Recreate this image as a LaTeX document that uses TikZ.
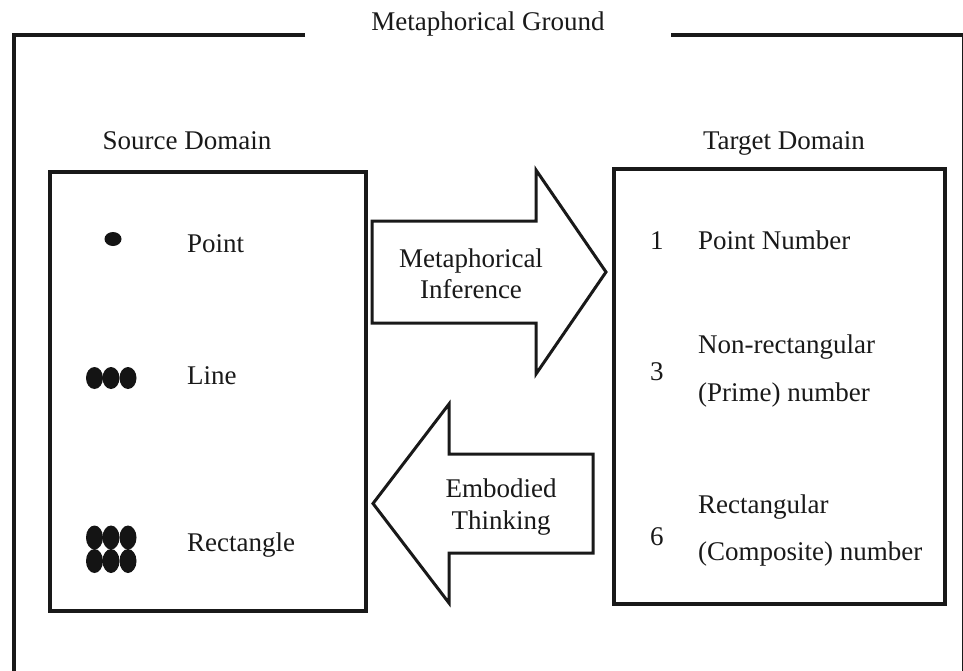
\documentclass[tikz,border=0pt]{standalone}
\usepackage{fontspec}
\setmainfont{Liberation Serif}
\begin{document}
\begin{tikzpicture}[x=1pt,y=-1pt,
  lbl/.style={inner sep=0pt, font=\fontsize{27}{31}\selectfont, text=black!90},
  box/.style={draw=black!90, line width=4pt, inner sep=0pt},
  fatarrow/.style={draw=black!90, fill=white, line width=3pt, line join=miter},
  frame/.style={draw=black!90, line width=4pt},
  dotfill/.style={fill=black!92}]
\useasboundingbox (0,0) rectangle (963,670);
\clip (0,0) rectangle (963,670);

% outer frame
\draw[frame] (305,35) -- (14,35) -- (14,720);
\draw[frame] (671,35) -- (963.5,35) -- (963.5,720);
\node[lbl, anchor=base] (title) at (488,30) {Metaphorical Ground};

% domain titles
\node[lbl, anchor=base] (srctitle) at (187,149) {Source Domain};
\node[lbl, anchor=base] (tgttitle) at (784,149) {Target Domain};

% boxes
\node[box, minimum width=316pt, minimum height=439pt, anchor=north west] (src) at (48,170) {};
\node[box, minimum width=331pt, minimum height=435pt, anchor=north west] (tgt) at (612,167) {};

% arrows
\draw[fatarrow] (372,221) -- (536,221) -- (536,170) -- (606,272) -- (536,374) -- (536,323) -- (372,323) -- cycle;
\node[lbl, anchor=base] (mi1) at (471,267) {Metaphorical};
\node[lbl, anchor=base] (mi2) at (471,298) {Inference};

\draw[fatarrow] (593,454) -- (449,454) -- (449,404) -- (373,503.5) -- (449,603) -- (449,553) -- (593,553) -- cycle;
\node[lbl, anchor=base] (et1) at (501,497) {Embodied};
\node[lbl, anchor=base] (et2) at (501,529) {Thinking};

% dots
\fill[dotfill] (113,239) ellipse [x radius=8.5, y radius=7];
\foreach \cx in {94.5,111,128}{
  \fill[dotfill] (\cx,378) ellipse [x radius=8.5, y radius=11];
  \fill[dotfill] (\cx,537.5) ellipse [x radius=8.5, y radius=12];
  \fill[dotfill] (\cx,561) ellipse [x radius=8.5, y radius=12];
}

% source labels
\node[lbl, anchor=base west] (lpoint) at (187,252) {Point};
\node[lbl, anchor=base west] (lline) at (187,384) {Line};
\node[lbl, anchor=base west] (lrect) at (187,551) {Rectangle};

% target labels
\node[lbl, anchor=base west] (n1) at (650,249) {1};
\node[lbl, anchor=base west] (t1) at (698,249) {Point Number};
\node[lbl, anchor=base west] (n3) at (650,380) {3};
\node[lbl, anchor=base west] (t3a) at (698,353) {Non-rectangular};
\node[lbl, anchor=base west] (t3b) at (698,401) {(Prime) number};
\node[lbl, anchor=base west] (n6) at (650,545) {6};
\node[lbl, anchor=base west] (t6a) at (698,513) {Rectangular};
\node[lbl, anchor=base west] (t6b) at (698,560) {(Composite) number};
\end{tikzpicture}
\end{document}
